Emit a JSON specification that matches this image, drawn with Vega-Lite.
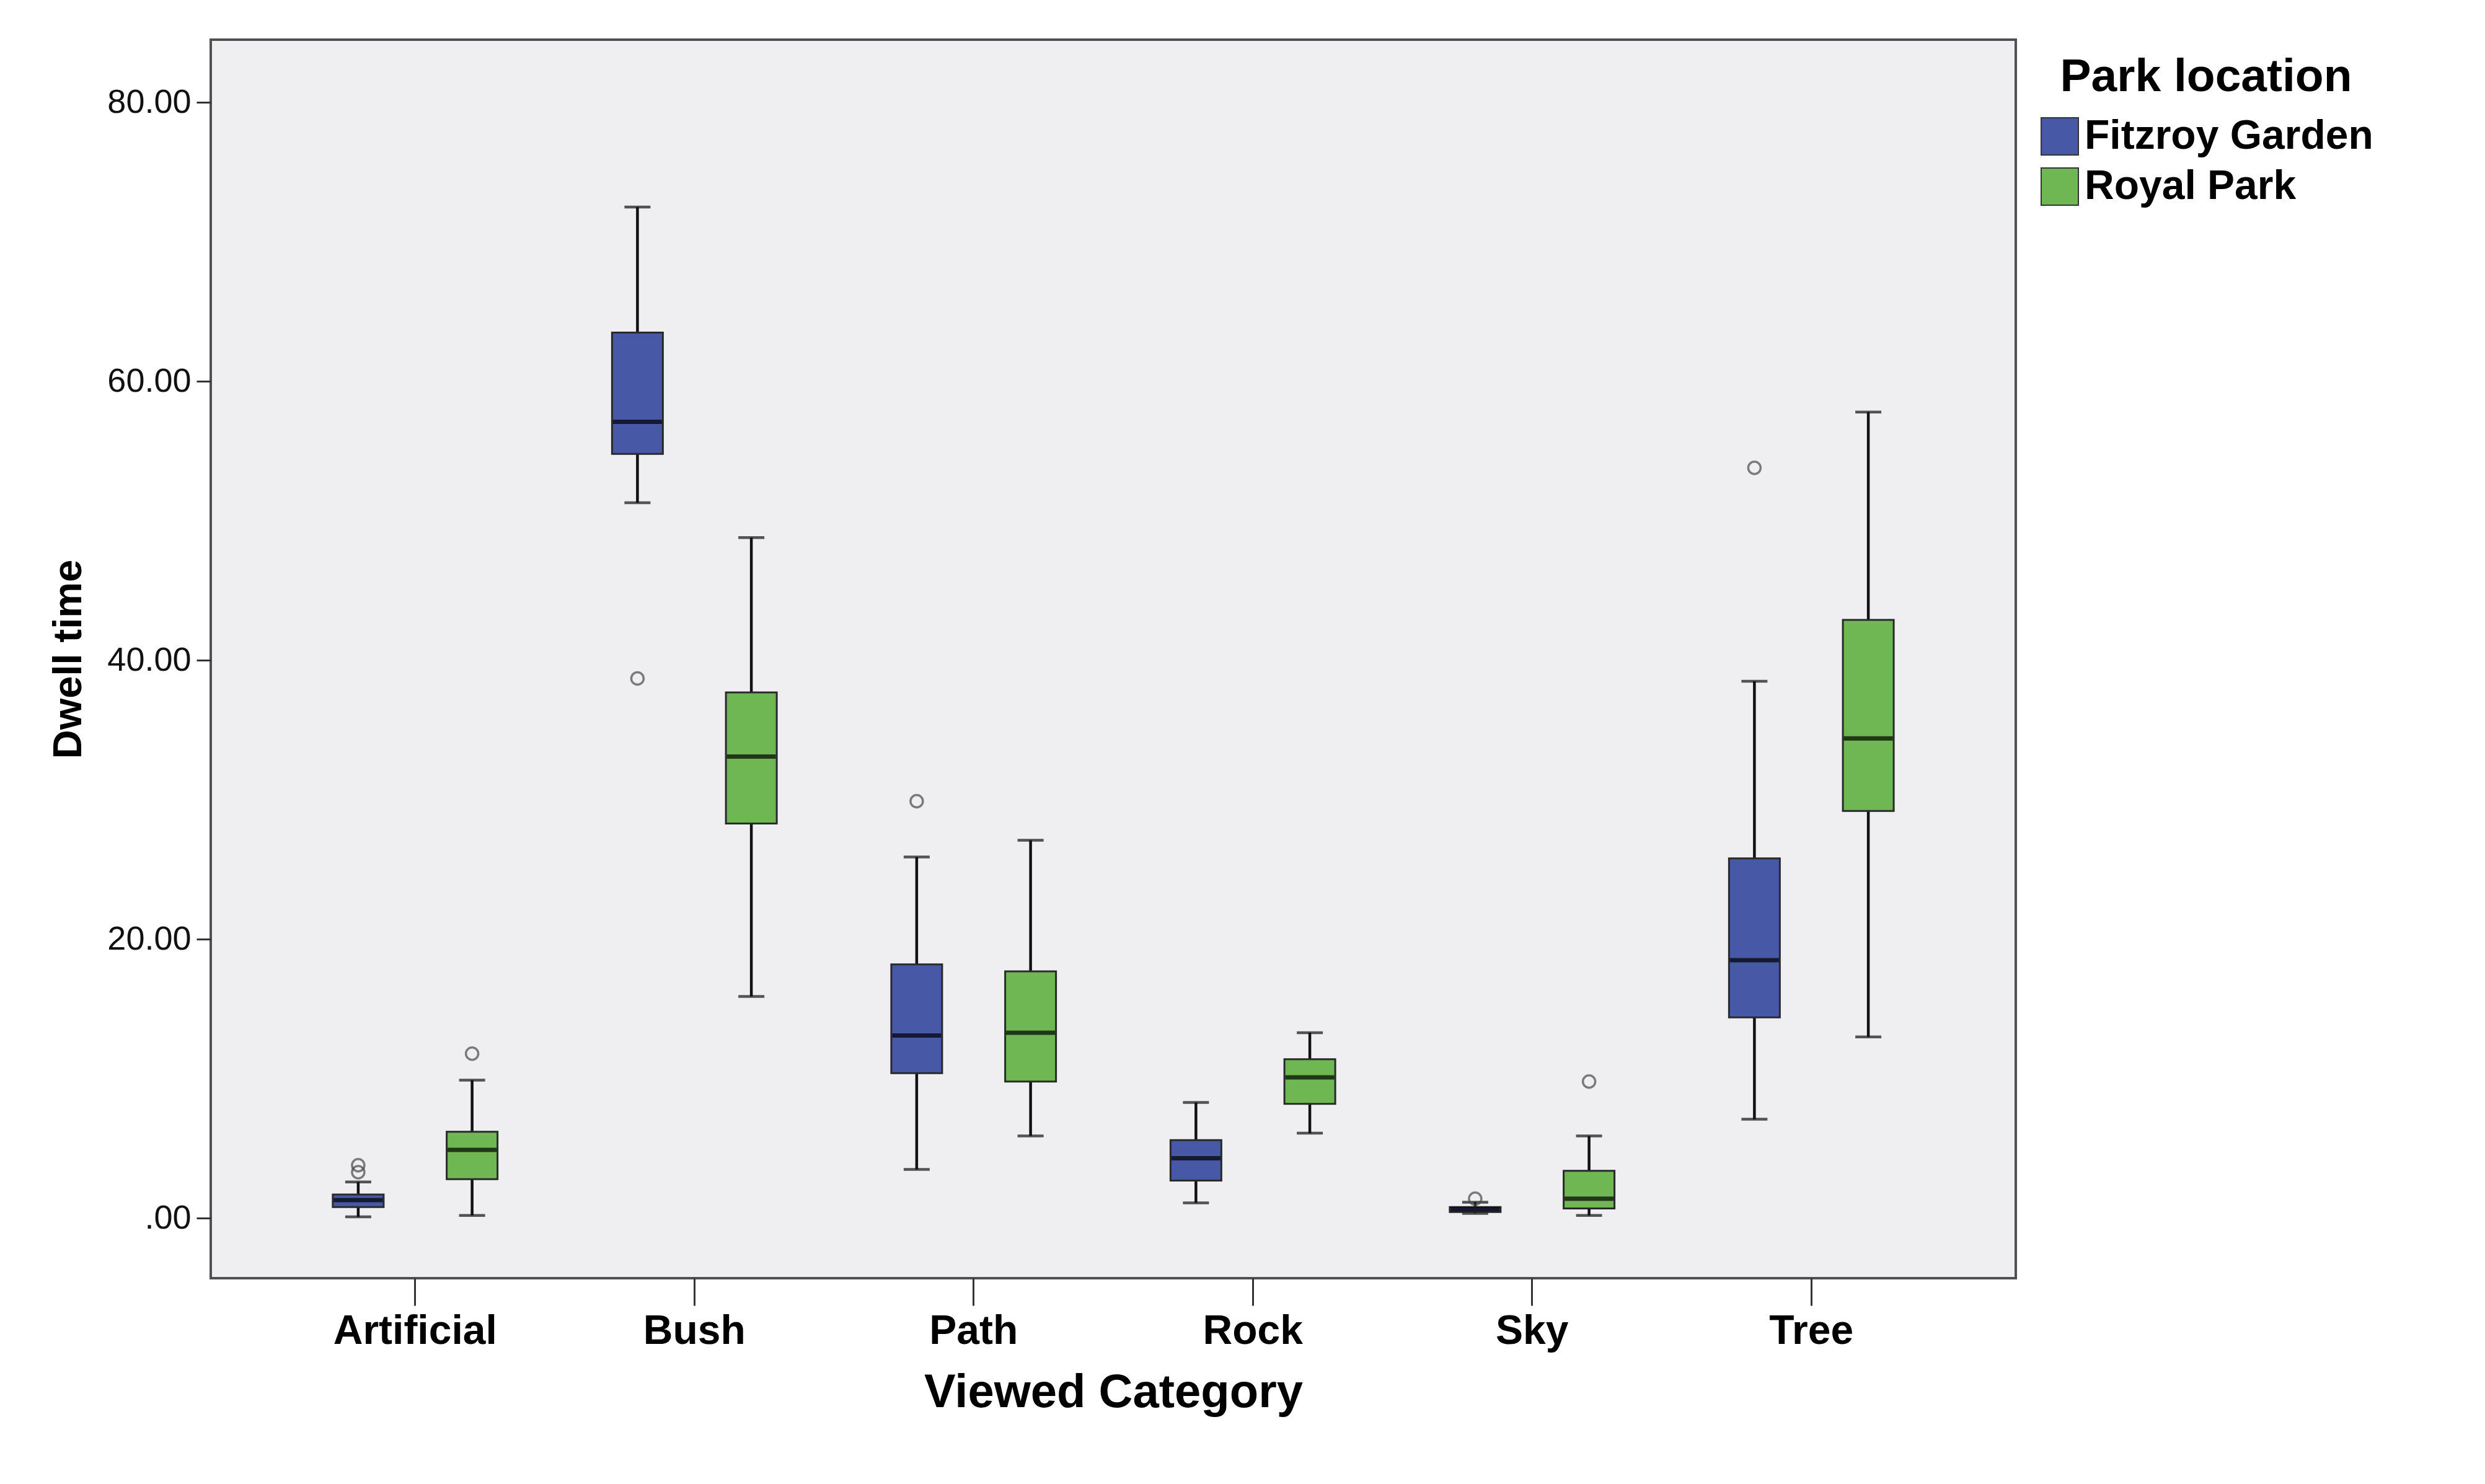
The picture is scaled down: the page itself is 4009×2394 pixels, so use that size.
{
  "$schema": "https://vega.github.io/schema/vega-lite/v6.json",
  "width": 2912,
  "height": 1998,
  "autosize": "none",
  "padding": {"left": 340, "top": 64, "right": 757, "bottom": 332},
  "background": "white",
  "config": {
    "font": "Liberation Sans",
    "view": {"fill": "#EFEFF2", "stroke": "#505050", "strokeWidth": 4},
    "axisY": {
      "grid": false, "domain": false, "tickColor": "#333333", "tickSize": 23, "tickWidth": 3,
      "labelFontSize": 54, "labelColor": "#111111", "labelPadding": 9, "labelLimit": 0,
      "titleFontSize": 65, "titleFontWeight": "bold", "titleColor": "#000000", "titlePadding": 28
    },
    "axisX": {
      "grid": false, "domain": false, "tickColor": "#333333", "tickSize": 44, "tickWidth": 3,
      "labelFontSize": 66, "labelFontWeight": "bold", "labelColor": "#000000", "labelPadding": 9, "labelAngle": 0, "labelLimit": 0,
      "titleFontSize": 76, "titleFontWeight": "bold", "titleColor": "#000000", "titlePadding": 29
    },
    "legend": {
      "orient": "none", "legendX": 2950, "legendY": 24,
      "titleFontSize": 75, "titleFontWeight": "bold", "titleColor": "#000000", "titleAnchor": "middle", "titlePadding": 24, "titleLimit": 0,
      "labelFontSize": 66, "labelFontWeight": "bold", "labelColor": "#000000", "labelOffset": 7, "labelLimit": 0,
      "symbolType": "square", "symbolSize": 3600, "symbolStrokeColor": "#333333", "symbolStrokeWidth": 2,
      "rowPadding": 13
    }
  },
  "datasets": {
    "boxes": [
      {"category": "Artificial", "park": "Fitzroy Garden", "lower": 0.1, "q1": 0.8, "median": 1.3, "q3": 1.7, "upper": 2.6},
      {"category": "Artificial", "park": "Royal Park", "lower": 0.2, "q1": 2.8, "median": 4.9, "q3": 6.2, "upper": 9.9},
      {"category": "Bush", "park": "Fitzroy Garden", "lower": 51.3, "q1": 54.8, "median": 57.1, "q3": 63.5, "upper": 72.5},
      {"category": "Bush", "park": "Royal Park", "lower": 15.9, "q1": 28.3, "median": 33.1, "q3": 37.7, "upper": 48.8},
      {"category": "Path", "park": "Fitzroy Garden", "lower": 3.5, "q1": 10.4, "median": 13.1, "q3": 18.2, "upper": 25.9},
      {"category": "Path", "park": "Royal Park", "lower": 5.9, "q1": 9.8, "median": 13.3, "q3": 17.7, "upper": 27.1},
      {"category": "Rock", "park": "Fitzroy Garden", "lower": 1.1, "q1": 2.7, "median": 4.3, "q3": 5.6, "upper": 8.3},
      {"category": "Rock", "park": "Royal Park", "lower": 6.1, "q1": 8.2, "median": 10.1, "q3": 11.4, "upper": 13.3},
      {"category": "Sky", "park": "Fitzroy Garden", "lower": 0.35, "q1": 0.45, "median": 0.65, "q3": 0.8, "upper": 1.15},
      {"category": "Sky", "park": "Royal Park", "lower": 0.2, "q1": 0.7, "median": 1.4, "q3": 3.4, "upper": 5.9},
      {"category": "Tree", "park": "Fitzroy Garden", "lower": 7.1, "q1": 14.4, "median": 18.5, "q3": 25.8, "upper": 38.5},
      {"category": "Tree", "park": "Royal Park", "lower": 13.0, "q1": 29.2, "median": 34.4, "q3": 42.9, "upper": 57.8}
    ],
    "outliers": [
      {"category": "Artificial", "park": "Fitzroy Garden", "value": 3.3},
      {"category": "Artificial", "park": "Fitzroy Garden", "value": 3.8},
      {"category": "Artificial", "park": "Royal Park", "value": 11.8},
      {"category": "Bush", "park": "Fitzroy Garden", "value": 38.7},
      {"category": "Path", "park": "Fitzroy Garden", "value": 29.9},
      {"category": "Sky", "park": "Fitzroy Garden", "value": 1.4},
      {"category": "Sky", "park": "Royal Park", "value": 9.8},
      {"category": "Tree", "park": "Fitzroy Garden", "value": 53.8}
    ]
  },
  "encoding": {
    "x": {
      "field": "category", "type": "nominal", "title": "Viewed Category",
      "scale": {"paddingInner": 0, "paddingOuter": 0.232}
    },
    "xOffset": {
      "field": "park", "type": "nominal",
      "scale": {"paddingInner": 0, "paddingOuter": 0.226}
    }
  },
  "layer": [
    {
      "data": {"name": "boxes"},
      "mark": {"type": "rule", "color": "#111111", "strokeWidth": 4.5},
      "encoding": {
        "y": {"field": "lower", "type": "quantitative", "title": "Dwell time",
              "scale": {"domain": [-4.3, 84.5], "nice": false, "zero": false},
              "axis": {"values": [0, 20, 40, 60, 80], "labelExpr": "datum.value == 0 ? '.00' : format(datum.value, '.2f')"}},
        "y2": {"field": "upper"}
      }
    },
    {
      "data": {"name": "boxes"},
      "mark": {"type": "tick", "color": "#111111", "size": 42, "thickness": 4.5},
      "encoding": {
        "y": {"field": "lower", "type": "quantitative", "title": "Dwell time"}
      }
    },
    {
      "data": {"name": "boxes"},
      "mark": {"type": "tick", "color": "#111111", "size": 42, "thickness": 4.5},
      "encoding": {
        "y": {"field": "upper", "type": "quantitative", "title": "Dwell time"}
      }
    },
    {
      "data": {"name": "boxes"},
      "mark": {"type": "bar", "width": 82, "stroke": "#2a2a2a", "strokeWidth": 3},
      "encoding": {
        "y": {"field": "q1", "type": "quantitative", "title": "Dwell time"},
        "y2": {"field": "q3"},
        "color": {"field": "park", "type": "nominal", "title": "Park location",
                  "scale": {"domain": ["Fitzroy Garden", "Royal Park"], "range": ["#4758A7", "#6FB752"]}}
      }
    },
    {
      "data": {"name": "boxes"},
      "mark": {"type": "tick", "color": "#000000", "size": 79, "thickness": 7},
      "encoding": {
        "y": {"field": "median", "type": "quantitative", "title": "Dwell time"}
      }
    },
    {
      "data": {"name": "outliers"},
      "mark": {"type": "point", "shape": "circle", "filled": false, "stroke": "#4a4a4a", "strokeWidth": 3.5, "size": 400},
      "encoding": {
        "y": {"field": "value", "type": "quantitative", "title": "Dwell time"}
      }
    }
  ]
}
